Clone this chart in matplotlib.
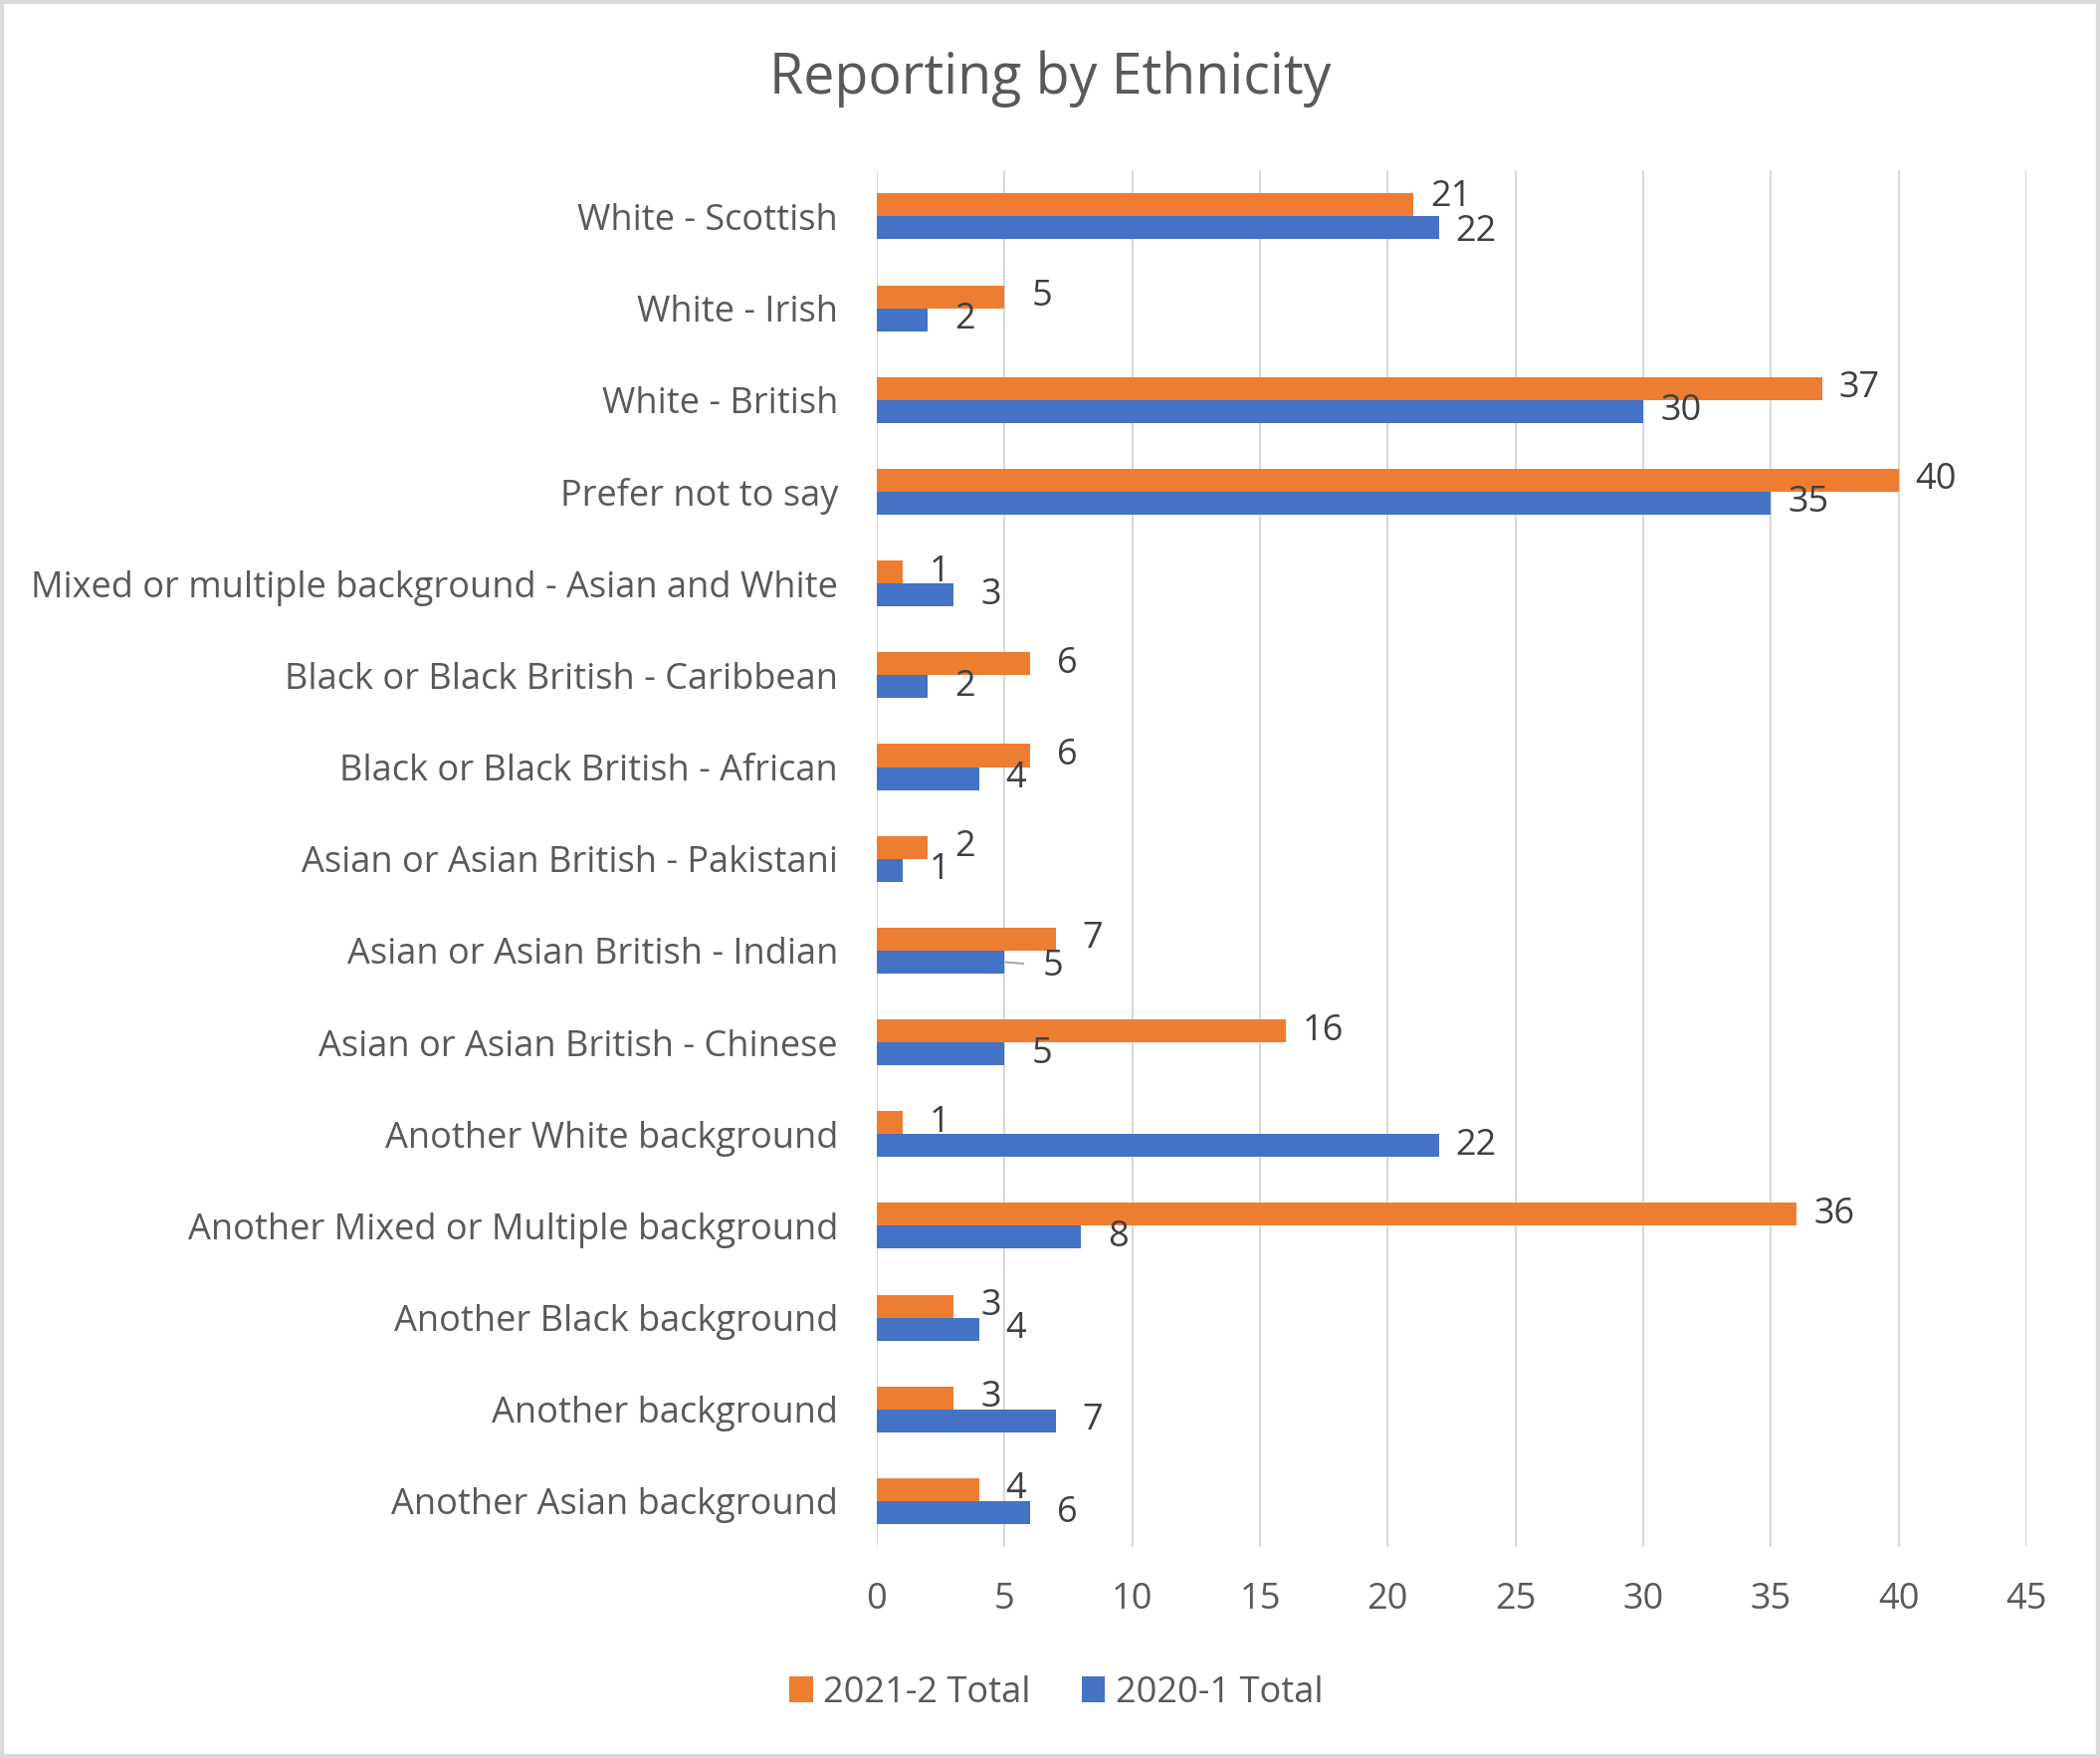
#!/usr/bin/env python3
'''horizontal grouped bar chart: reporting by ethnicity'''
import numpy as np
import matplotlib
matplotlib.use('Agg')
import matplotlib.pyplot as plt
from matplotlib.patches import Rectangle

categories = ['White - Scottish', 'White - Irish', 'White - British',
              'Prefer not to say',
              'Mixed or multiple background - Asian and White',
              'Black or Black British - Caribbean',
              'Black or Black British - African',
              'Asian or Asian British - Pakistani',
              'Asian or Asian British - Indian',
              'Asian or Asian British - Chinese',
              'Another White background',
              'Another Mixed or Multiple background',
              'Another Black background', 'Another background',
              'Another Asian background']
total_2021 = [21, 5, 37, 40, 1, 6, 6, 2, 7, 16, 1, 36, 3, 3, 4]
total_2020 = [22, 2, 30, 35, 3, 2, 4, 1, 5, 5, 22, 8, 4, 7, 6]
xticks = np.arange(0, 46, 5)

ORANGE = '#ED7D31'
BLUE = '#4472C4'
TEXT = '#595959'
LABEL = '#404040'
GRID = '#D9D9D9'
FS = 26

plt.rcParams['font.family'] = ['Open Sans', 'DejaVu Sans']

fig = plt.figure(figsize=(21.1, 17.66), dpi=100)
ax = fig.add_axes([0.4175, 0.120, 0.5475, 0.783])

y = np.arange(len(categories))
h = 0.25
ax.barh(y - h / 2, total_2021, height=h, color=ORANGE, label='2021-2 Total',
        zorder=3)
ax.barh(y + h / 2, total_2020, height=h, color=BLUE, label='2020-1 Total',
        zorder=3)

for i, v in enumerate(total_2021):
    dy = 6 if categories[i] == 'White - Scottish' else 0
    ax.annotate(str(v), (v, i - h / 2), xytext=(27, dy),
                textcoords='offset points', ha='center', va='center',
                fontsize=FS, color=LABEL)
for i, v in enumerate(total_2020):
    if categories[i] == 'Asian or Asian British - Indian':
        # label pushed aside with a small leader line
        ax.annotate(str(v), (v, i + h / 2), xytext=(35, -3),
                    textcoords='offset points', ha='center', va='center',
                    fontsize=FS, color=LABEL,
                    arrowprops=dict(arrowstyle='-', color='#A6A6A6', lw=1.5,
                                    shrinkA=12, shrinkB=1))
    else:
        dy = -3 if categories[i] == 'White - Scottish' else 0
        ax.annotate(str(v), (v, i + h / 2), xytext=(27, dy),
                    textcoords='offset points', ha='center', va='center',
                    fontsize=FS, color=LABEL)

ax.set_xlim(0, 45)
ax.set_ylim(len(categories) - 0.5, -0.5)
ax.set_xticks(xticks)
ax.set_yticks(y)
ax.set_yticklabels(categories)
ax.tick_params(axis='y', length=0, pad=28, labelsize=FS, labelcolor=TEXT)
ax.tick_params(axis='x', length=0, pad=25, labelsize=FS, labelcolor=TEXT)
ax.xaxis.grid(True, color=GRID, linewidth=1.5, zorder=0)
for s in ax.spines.values():
    s.set_visible(False)

fig.text(0.5, 0.955, 'Reporting by Ethnicity', ha='center', va='center',
         fontsize=40, color=TEXT)

fig.legend(loc='center', bbox_to_anchor=(0.503, 0.037), ncol=2, frameon=False,
           fontsize=FS, labelcolor=TEXT, handlelength=0.65, handleheight=0.7,
           handletextpad=0.3, columnspacing=1.4)

fig.patches.append(Rectangle((0.001, 0.001), 0.998, 0.998,
                             transform=fig.transFigure, fill=False,
                             edgecolor=GRID, linewidth=3))

fig.savefig('out.png', dpi=100, facecolor='white')
